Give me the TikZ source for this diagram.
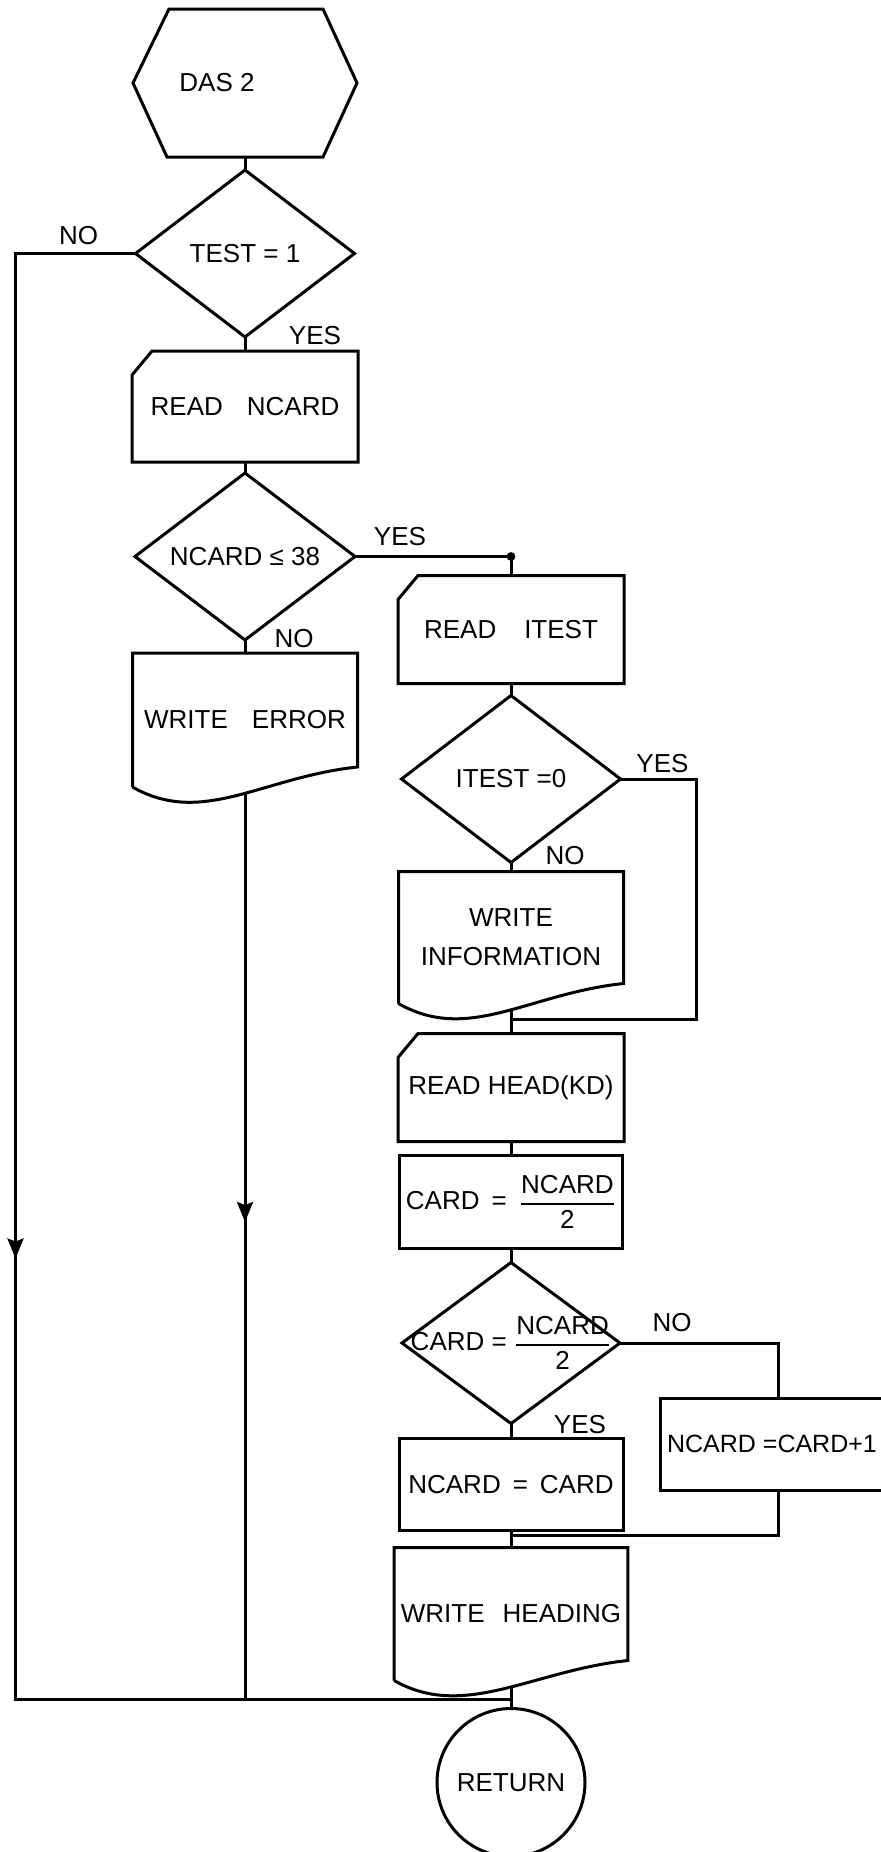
\documentclass[tikz,border=0pt]{standalone}
\usepackage{fontspec}
\setmainfont{Liberation Sans}
\usepackage{amsmath}
\usepackage{tikz}
\usetikzlibrary{positioning, arrows.meta, calc, shapes.geometric, decorations.markings}

\begin{document}
\begin{tikzpicture}[
    every node/.style={font=\fontsize{13}{15.5}\selectfont, outer sep=0pt},
    wire/.style={line width=1.5pt},
    midarrow/.style={postaction={decorate}, decoration={markings,
      mark=at position #1 with {\arrow{Stealth[length=10pt, width=8pt, inset=1.5pt]}}}},
    tag/.style={inner sep=0pt},
    decision/.style={diamond, draw, line width=1.5pt, aspect=1.3, inner sep=0pt,
      minimum width=109.5pt, minimum height=83.5pt},
    process/.style={rectangle, draw, line width=1.5pt,
      minimum width=112pt, minimum height=46pt},
    hexa/.style={minimum width=112pt, minimum height=74pt,
      append after command={\pgfextra{\draw[wire] (\tikzlastnode.west)
        -- ([xshift=18pt]\tikzlastnode.north west) -- ([xshift=-17pt]\tikzlastnode.north east)
        -- (\tikzlastnode.east) -- ([xshift=-17pt]\tikzlastnode.south east)
        -- ([xshift=17pt]\tikzlastnode.south west) -- cycle;}}},
    card/.style={minimum width=113pt, minimum height=54pt,
      append after command={\pgfextra{\draw[wire] ([yshift=-12pt]\tikzlastnode.north west)
        -- ([xshift=10pt]\tikzlastnode.north west) -- (\tikzlastnode.north east)
        -- (\tikzlastnode.south east) -- (\tikzlastnode.south west) -- cycle;}}},
    doc/.style={minimum width=112.5pt, minimum height=66pt, align=center,
      append after command={\pgfextra{\draw[wire] (\tikzlastnode.south west)
        -- (\tikzlastnode.north west) -- (\tikzlastnode.north east)
        -- ([yshift=10pt]\tikzlastnode.south east)
        .. controls ([xshift=-47.5pt,yshift=5pt]\tikzlastnode.south east)
        and ([xshift=35pt,yshift=-20pt]\tikzlastnode.south west) .. (\tikzlastnode.south west);}}},
    terminal/.style={circle, draw, line width=1.5pt, minimum size=74pt, inner sep=0pt}]

  \useasboundingbox (0,0) rectangle (440.5pt,-926pt);

  % left column
  \node[hexa] (das) at (122.5pt,-41.5pt) {DAS 2\hspace*{28pt}};
  \node[decision, below=6.5pt of das] (test) {TEST = 1};
  \node[card, below=7pt of test, minimum height=55.5pt] (readn) {READ\hspace{12pt}NCARD};
  \node[decision, below=5.5pt of readn, minimum width=110pt] (ncard) {NCARD ≤ 38};
  \node[doc, below=6.5pt of ncard, minimum height=67pt] (werr) {WRITE\hspace{12pt}ERROR};

  % right column
  \coordinate[right=78pt of ncard.east] (fork);
  \node[card, below=9.5pt of fork] (ritest) {READ\hspace{14pt}ITEST};
  \node[decision, below=6pt of ritest] (itest) {ITEST =0};
  \node[doc, below=4.5pt of itest] (winfo) {WRITE\\[4pt]INFORMATION};
  \node[card, below=15pt of winfo] (rhead) {READ HEAD(KD)};
  \node[process, below=7pt of rhead, minimum width=111.5pt, minimum height=46.5pt] (half)
    {CARD\hspace{6pt}=\hspace{6pt}$\genfrac{}{}{1pt}{0}{\mbox{NCARD}}{\mbox{2}}$};
  \node[decision, below=7pt of half, minimum width=109pt, minimum height=80.5pt] (even)
    {\makebox[0pt]{CARD = $\genfrac{}{}{1pt}{0}{\mbox{NCARD}}{\mbox{2}}$}};
  \node[process, below=7.5pt of even] (keep) {NCARD\hspace{6pt}=\hspace{6pt}CARD};
  \coordinate[right=79pt of even.east] (oddturn);
  \node[process, below=27.5pt of oddturn, minimum width=117pt,
    font=\fontsize{12.5}{15}\selectfont] (odd) {NCARD =CARD+1\hspace*{6pt}};
  \node[doc, below=8.5pt of keep, minimum height=66.5pt] (whead) {WRITE\hspace{9pt}HEADING};
  \node[terminal, below=14pt of whead] (ret) {RETURN};

  % branch labels
  \node[tag] (no1) at ($(test.west)+(-28.5pt,9pt)$) {NO};
  \node[tag] (yes1) at ($(test.south)+(35pt,0.5pt)$) {YES};
  \node[tag] (yes2) at ($(ncard.east)+(22.5pt,10pt)$) {YES};
  \node[tag] (no2) at ($(ncard.south)+(24.5pt,0.5pt)$) {NO};
  \node[tag] (yes3) at ($(itest.east)+(21pt,7.5pt)$) {YES};
  \node[tag] (no3) at ($(itest.south)+(27pt,3.5pt)$) {NO};
  \node[tag] (no4) at ($(even.east)+(26pt,10pt)$) {NO};
  \node[tag] (yes4) at ($(even.south)+(34.5pt,-0.5pt)$) {YES};

  % left column flow
  \draw[wire] (das.south) -- (test.north);
  \draw[wire] (test.south) -- (readn.north);
  \draw[wire] (readn.south) -- (ncard.north);
  \draw[wire] (ncard.south) -- (werr.north);

  % the two NO lines down to the end
  \coordinate[left=60pt of test.west] (rail);
  \coordinate[below=9.5pt of whead.south] (merge);
  \draw[wire, midarrow=562.5pt] (test.west) -- (rail) |- (merge);
  \draw[wire, midarrow=214.5pt] ([yshift=-3pt]werr.south) -- (werr.south |- merge);

  % right column flow
  \draw[wire] (ncard.east) -- (fork) -- (ritest.north);
  \fill (fork) circle (2.2pt);
  \draw[wire] (ritest.south) -- (itest.north);
  \draw[wire] (itest.south) -- (winfo.north);
  \coordinate[right=38pt of itest.east] (loop);
  \coordinate[below=8pt of winfo.south] (skip);
  \draw[wire] (itest.east) -- (loop) |- (skip);
  \draw[wire] ([yshift=-3pt]winfo.south) -- (rhead.north);
  \draw[wire] (rhead.south) -- (half.north);
  \draw[wire] (half.south) -- (even.north);
  \draw[wire] (even.south) -- (keep.north);
  \draw[wire] (even.east) -- (oddturn) -- (odd.north);
  \coordinate (join) at ($(keep.south)!0.3!(whead.north)$);
  \draw[wire] (odd.south) |- (join);
  \draw[wire] (keep.south) -- (whead.north);
  \draw[wire] ([yshift=-3pt]whead.south) -- (ret.north);
\end{tikzpicture}
\end{document}
